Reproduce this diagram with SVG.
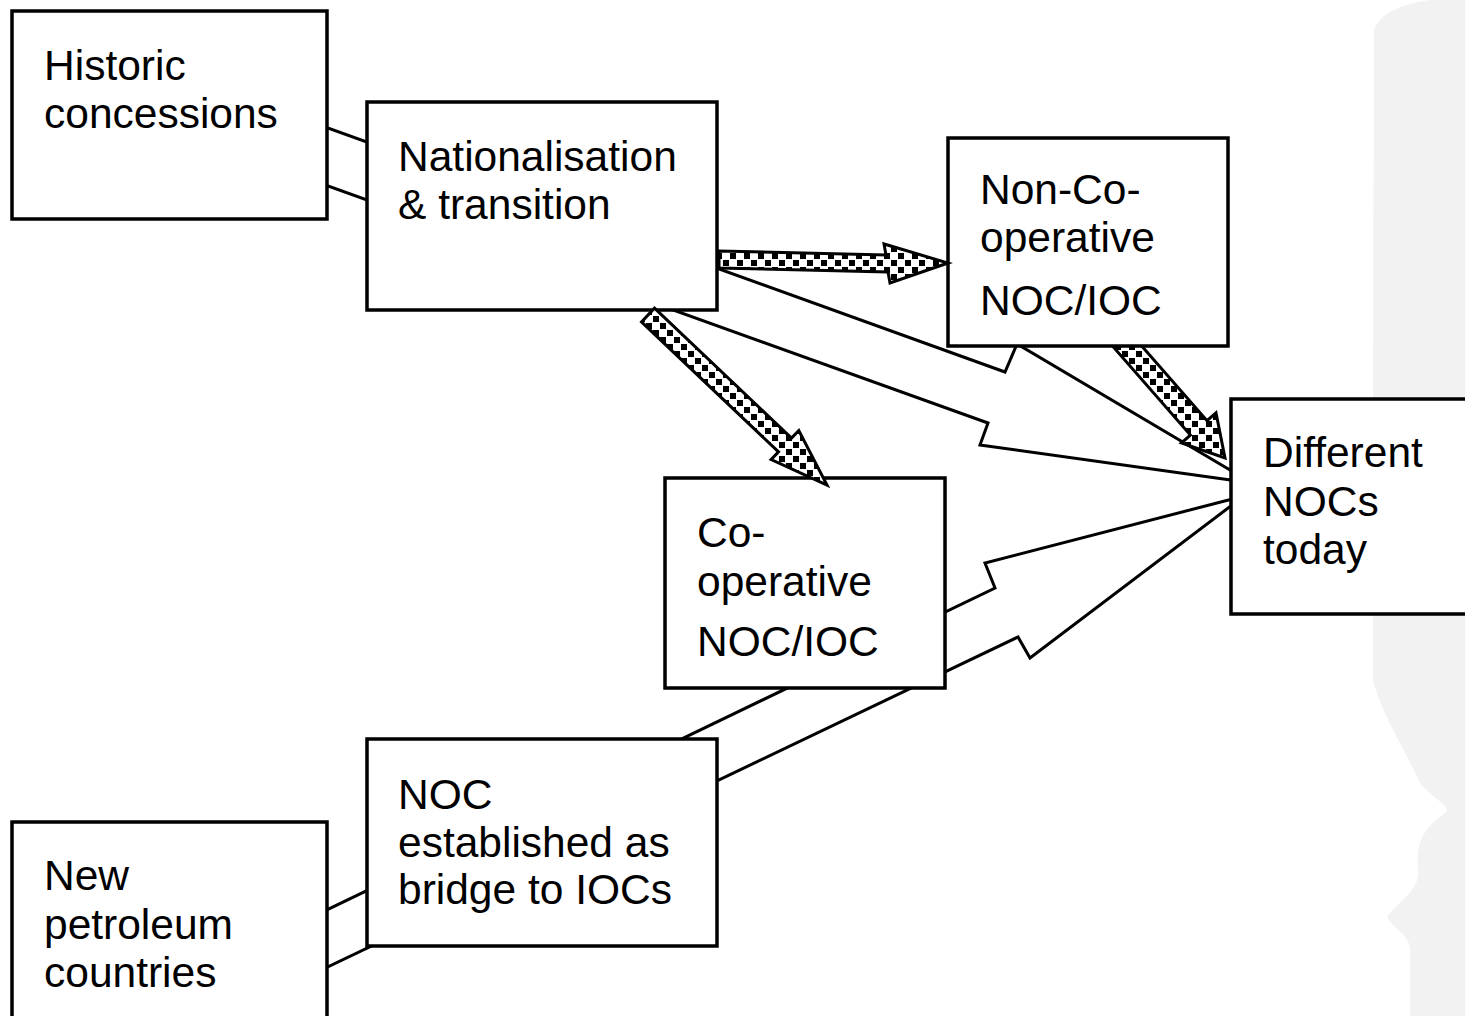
<svg xmlns="http://www.w3.org/2000/svg" width="1465" height="1016" viewBox="0 0 1465 1016">
<defs>
<pattern id="chk" patternUnits="userSpaceOnUse" width="14" height="14" x="2" y="1">
<rect width="14" height="14" fill="#fff"/>
<rect x="0" y="0" width="6" height="6" fill="#000"/>
<rect x="7" y="7" width="6" height="6" fill="#000"/>
</pattern>
<style>
.box{fill:#fff;stroke:#000;stroke-width:3.5}
.big{fill:#fff;stroke:#000;stroke-width:3;stroke-linejoin:miter}
.pat{fill:url(#chk);stroke:#000;stroke-width:3;stroke-linejoin:miter}
text{font-family:"Liberation Sans",Arial,sans-serif;font-size:42.5px;fill:#000}
</style>
</defs>
<rect width="1465" height="1016" fill="#fff"/>
<path d="M1465,0 L1430,0 C1400,4 1380,14 1374,30 L1373,400 L1373,680 C1380,710 1400,740 1420,783 C1435,800 1450,806 1446,812 C1430,825 1415,835 1418,870 C1420,890 1400,900 1387,917 C1395,930 1410,935 1410,950 L1410,1016 L1465,1016 Z" fill="#f2f2f2"/>
<g id="connectors">
<polygon class="big" points="200,82 1005,372 1017,344 1252,483 980,445 988,423 200,140"/>
<polygon class="big" points="200,971 995,588 985,563 1244,496 1030,658 1018,637 200,1028"/>
<polygon class="pat" points="1108.3,307.8 1207,420.7 1216,412.8 1225,458 1181.4,443 1190.4,435.1 1091.7,322.2"/>
</g>
<g id="historic"><rect class="box" x="12" y="11" width="315" height="208"/><text x="44" y="80">Historic</text><text x="44" y="128">concessions</text></g>
<g id="nationalisation"><rect class="box" x="367" y="102" width="350" height="208"/><text x="398" y="171">Nationalisation</text><text x="398" y="219">&amp; transition</text></g>
<g id="noncoop"><rect class="box" x="948" y="138" width="280" height="208"/><text x="980" y="204">Non-Co-</text><text x="980" y="252">operative</text><text x="980" y="315">NOC/IOC</text></g>
<g id="different"><rect class="box" x="1231" y="399" width="260" height="215"/><text x="1263" y="467">Different</text><text x="1263" y="516">NOCs</text><text x="1263" y="564">today</text></g>
<g id="coop"><rect class="box" x="665" y="478" width="280" height="210"/><text x="697" y="547">Co-</text><text x="697" y="596">operative</text><text x="697" y="656">NOC/IOC</text></g>
<g id="bridge"><rect class="box" x="367" y="739" width="350" height="207"/><text x="398" y="809">NOC</text><text x="398" y="857">established as</text><text x="398" y="904">bridge to IOCs</text></g>
<g id="newpet"><rect class="box" x="12" y="822" width="315" height="220"/><text x="44" y="890">New</text><text x="44" y="939">petroleum</text><text x="44" y="987">countries</text></g>
<g id="connectors2">
<polygon class="pat" points="719,251 886,255 884,244 948,263 890,283 888,272 719,268"/>
<polygon class="pat" points="654.5,308.1 791.5,438.1 798.8,430.5 827,485 771.2,459.5 778.5,451.9 641.5,321.9"/>
</g>
</svg>
